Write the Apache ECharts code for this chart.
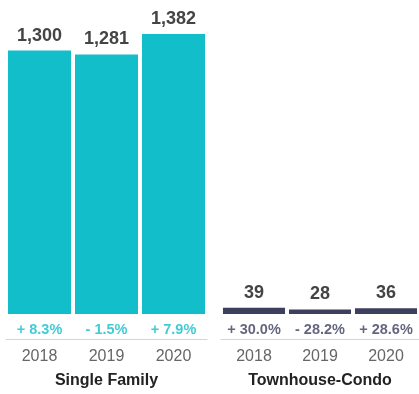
<!DOCTYPE html>
<html>
<head>
<meta charset="utf-8">
<script src="https://cdn.jsdelivr.net/npm/echarts@6/dist/echarts.min.js"></script>
<style>
  html, body { margin: 0; padding: 0; background: #fff; }
  #chart { width: 419px; height: 394px; }
</style>
</head>
<body>
<div id="chart"></div>
<script>
const years = ['2018', '2019', '2020'];
const groupNames = ['Single Family', 'Townhouse-Condo'];
const singleFamily = [1300, 1281, 1382];
const townhouse = [39, 28, 36];
const singleFamilyChange = ['+ 8.3%', '- 1.5%', '+ 7.9%'];
const townhouseChange = ['+ 30.0%', '- 28.2%', '+ 28.6%'];

const TEAL = '#12bec9';
const NAVY = '#3d3f5e';
const FONT = "'Liberation Sans', Arial, sans-serif";

let myChart = echarts.init(document.getElementById('chart'));

const makeX = (idx, name) => ({
  type: 'category',
  gridIndex: idx,
  data: years,
  offset: 25,
  name: name,
  nameLocation: 'middle',
  nameGap: 34,
  nameTextStyle: { color: '#222', fontSize: 16, fontWeight: 'bold', fontFamily: FONT },
  axisLine: { onZero: false, lineStyle: { color: '#d4d4d4', width: 1 } },
  axisTick: { alignWithLabel: true, length: 4, lineStyle: { color: '#d4d4d4' } },
  axisLabel: { color: '#666', fontSize: 16, margin: 10, fontFamily: FONT },
});

const makeY = (idx, max) => ({
  type: 'value',
  gridIndex: idx,
  min: 0,
  max: max,
  show: false,
});

const barSeries = (idx, data, color) => ({
  type: 'bar',
  xAxisIndex: idx,
  yAxisIndex: idx,
  data: data,
  barCategoryGap: '6%',
  itemStyle: { color: color },
  label: {
    show: true,
    position: 'top',
    distance: 6,
    color: '#444',
    fontSize: 18,
    fontWeight: 'bold',
    fontFamily: FONT,
    formatter: p => p.value.toLocaleString('en-US'),
  },
});

// percentage change labels sit just under the bars
const changeSeries = (idx, labels, color) => ({
  type: 'scatter',
  xAxisIndex: idx,
  yAxisIndex: idx,
  data: labels.map(() => 0),
  symbolSize: 1,
  itemStyle: { color: 'transparent' },
  silent: true,
  label: {
    show: true,
    position: 'bottom',
    distance: 8,
    color: color,
    fontSize: 14.5,
    fontWeight: 'bold',
    fontFamily: FONT,
    formatter: p => labels[p.dataIndex],
  },
});

myChart.setOption({
  animation: false,
  backgroundColor: '#fff',
  grid: [
    { left: 6, width: 201, top: 34, bottom: 79 },
    { left: 221, width: 201, top: 34, bottom: 79 },
  ],
  xAxis: [makeX(0, groupNames[0]), makeX(1, groupNames[1])],
  yAxis: [makeY(0, 1382), makeY(1, 1750)],
  series: [
    barSeries(0, singleFamily, TEAL),
    barSeries(1, townhouse, NAVY),
    changeSeries(0, singleFamilyChange, TEAL),
    changeSeries(1, townhouseChange, NAVY),
  ],
});
</script>
</body>
</html>
